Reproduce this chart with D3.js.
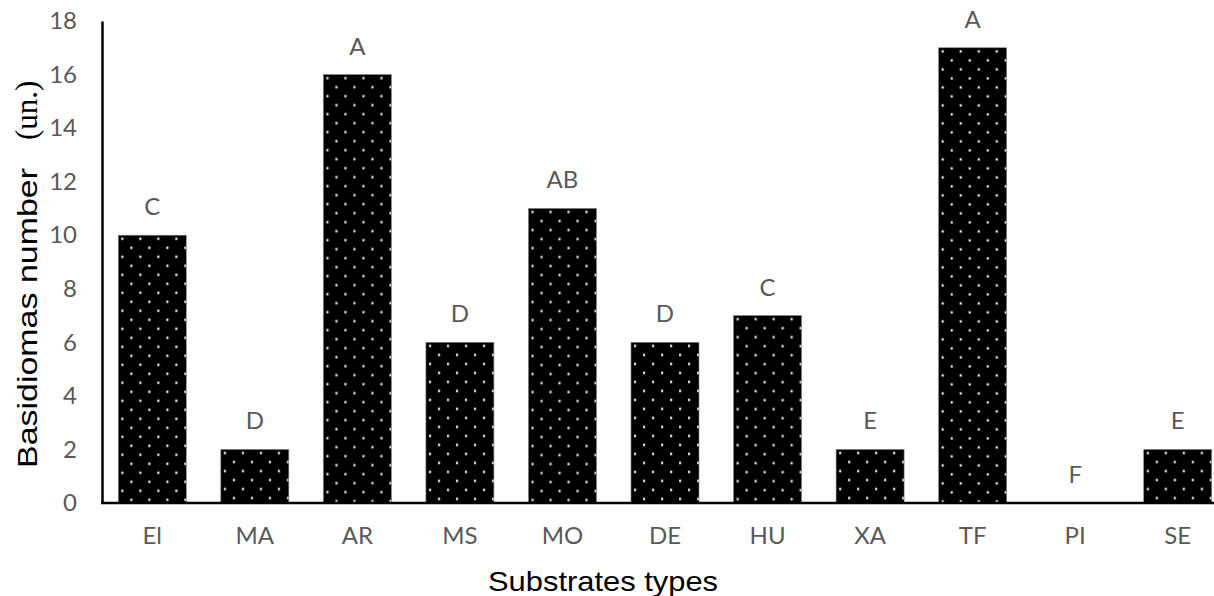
<!DOCTYPE html>
<html>
<head>
<meta charset="utf-8">
<script src="https://cdn.jsdelivr.net/npm/d3@7"></script>
<style>
  html, body { margin: 0; padding: 0; background: #fff; }
  svg { display: block; }
</style>
</head>
<body>
<svg id="chart" width="1214" height="596"></svg>
<script>
// Substrate categories, basidioma counts and significance letters
const categories = ["El", "MA", "AR", "MS", "MO", "DE", "HU", "XA", "TF", "PI", "SE"];
const counts = [10, 2, 16, 6, 11, 6, 7, 2, 17, 0, 2];
const letters = ["C", "D", "A", "D", "AB", "D", "C", "E", "A", "F", "E"];
const yTicks = [0, 2, 4, 6, 8, 10, 12, 14, 16, 18];

const svg = d3.select("#chart");
const tickFont = "Lato, 'Open Sans', sans-serif";
const tickColor = "#595959";

const x = d3.scaleBand()
  .domain(categories)
  .range([101, 1229])
  .paddingInner(0.337)
  .paddingOuter(0.1685);

const y = d3.scaleLinear()
  .domain([0, 18])
  .range([503, 21]);

const rows = categories.map((c, i) => ({ cat: c, value: counts[i], letter: letters[i], i }));

// Dotted fill: one pattern per bar so the dot lattice starts at each bar's corner
const defs = svg.append("defs");
const pats = defs.selectAll("pattern")
  .data(rows)
  .join("pattern")
  .attr("id", d => "dots" + d.i)
  .attr("patternUnits", "userSpaceOnUse")
  .attr("x", d => x(d.cat))
  .attr("y", d => y(d.value))
  .attr("width", 18)
  .attr("height", 18);
pats.append("rect").attr("width", 18).attr("height", 18).attr("fill", "#000");
pats.append("rect").attr("x", 3).attr("y", 2.5).attr("width", 2.2).attr("height", 2.2).attr("fill", "#fff");
pats.append("rect").attr("x", 12).attr("y", 11.5).attr("width", 2.2).attr("height", 2.2).attr("fill", "#fff");

// Bars
svg.append("g")
  .selectAll("rect")
  .data(rows.filter(d => d.value > 0))
  .join("rect")
  .attr("x", d => x(d.cat))
  .attr("y", d => y(d.value))
  .attr("width", x.bandwidth())
  .attr("height", d => y(0) - y(d.value))
  .attr("fill", d => `url(#dots${d.i})`)
  .attr("stroke", "#808080")
  .attr("stroke-width", 0.6);

// Significance letters above bars
svg.append("g")
  .selectAll("text")
  .data(rows)
  .join("text")
  .attr("x", d => x(d.cat) + x.bandwidth() / 2)
  .attr("y", d => y(d.value) - 20)
  .attr("text-anchor", "middle")
  .attr("font-family", tickFont)
  .attr("font-size", 24)
  .attr("fill", tickColor)
  .text(d => d.letter);

// Y axis
const yAxis = d3.axisLeft(y).tickValues(yTicks).tickSize(0).tickPadding(25);
const gy = svg.append("g").attr("transform", "translate(102,0)").call(yAxis);
gy.select(".domain").attr("stroke", "#000").attr("stroke-width", 2.5);
gy.selectAll("text")
  .attr("font-family", tickFont)
  .attr("font-size", 24)
  .attr("fill", tickColor);

// X axis
const xAxis = d3.axisBottom(x).tickSize(0).tickPadding(24);
const gx = svg.append("g").attr("transform", "translate(0,503)").call(xAxis);
gx.select(".domain").attr("stroke", "#000").attr("stroke-width", 2.5)
  .attr("d", "M101,0H1229");
gx.selectAll("text")
  .attr("font-family", tickFont)
  .attr("font-size", 24)
  .attr("fill", tickColor);

// Axis titles
svg.append("text")
  .attr("x", 488)
  .attr("y", 591)
  .attr("font-family", "'Liberation Sans', Arial, sans-serif")
  .attr("font-size", 28)
  .attr("fill", "#000")
  .attr("textLength", 230)
  .attr("lengthAdjust", "spacingAndGlyphs")
  .text("Substrates types");

const yt = svg.append("text")
  .attr("transform", "translate(37,468) rotate(-90)")
  .attr("fill", "#000");
yt.append("tspan")
  .attr("font-family", "'Liberation Sans', Arial, sans-serif")
  .attr("font-size", 28)
  .attr("textLength", 300)
  .attr("lengthAdjust", "spacingAndGlyphs")
  .text("Basidiomas number");
yt.append("tspan")
  .attr("x", 328)
  .attr("font-family", "'Liberation Serif', 'Times New Roman', serif")
  .attr("font-size", 31)
  .text("(un.)");
</script>
</body>
</html>
